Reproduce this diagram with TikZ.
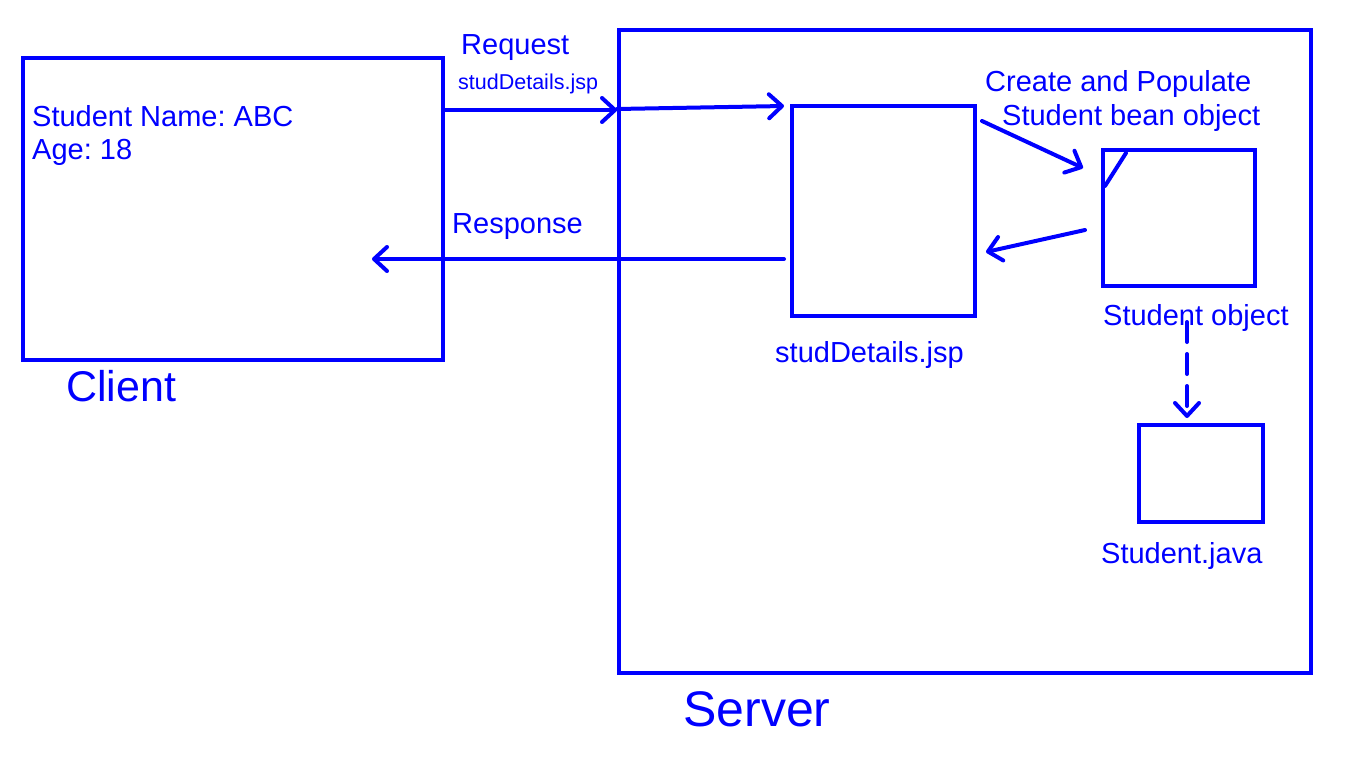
\documentclass[tikz,border=0pt]{standalone}
\usepackage{fontspec}
\setmainfont{Liberation Sans}
\usetikzlibrary{arrows.meta}
\definecolor{paintblue}{RGB}{0,0,255}
\frenchspacing
\tikzset{
  box/.style={draw=paintblue,line width=4pt,inner sep=0pt},
  lbl/.style={anchor=base west,inner sep=0pt,text=paintblue,font=\fontsize{29}{34}\selectfont},
  flow/.style={draw=paintblue,line width=4pt,line cap=round,-{Straight Barb[length=13pt,width=24pt,round]}}
}
\begin{document}
\begin{tikzpicture}[x=1pt,y=-1pt]
\useasboundingbox (0,0) rectangle (1366,768);
% Boxes
\node[box,minimum width=420pt,minimum height=302pt] (client) at (233,209) {};
\node[box,minimum width=692pt,minimum height=643pt] (server) at (965,351.5) {};
\node[box,minimum width=183pt,minimum height=210pt] (jsp) at (883.5,211) {};
\node[box,minimum width=152pt,minimum height=136pt] (obj) at (1179,218) {};
\node[box,minimum width=124pt,minimum height=97pt] (java) at (1201,473.5) {};
% Labels
\node[lbl] (name) at (32,126) {Student Name: ABC};
\node[lbl] (age) at (32,159) {Age: 18};
\node[lbl,font=\fontsize{43}{48}\selectfont] (clientlbl) at (66,401) {Client};
\node[lbl,font=\fontsize{50}{56}\selectfont] (serverlbl) at (683,726) {Server};
\node[lbl] (req) at (461,55) {Request};
\node[lbl,font=\fontsize{21.5}{26}\selectfont] (reqfile) at (458,89) {studDetails.jsp};
\node[lbl] (resp) at (452,233) {Response};
\node[lbl] (jsplbl) at (775,362) {studDetails.jsp};
\node[lbl] (create) at (985,92) {Create and Populate};
\node[lbl] (bean) at (1002,125) {Student bean object};
\node[lbl] (objlbl) at (1103,325) {Student object};
\node[lbl] (javalbl) at (1101,563) {Student.java};
% Arrows
\draw[flow] ([yshift=-54pt]client.north east) -- ([yshift=-82pt]server.north west);
\draw[flow] ([yshift=-81pt]server.north west) -- ([xshift=-6pt,yshift=-2pt]jsp.north west);
\draw[flow] ([xshift=5pt,yshift=-17pt]jsp.north east) -- ([xshift=-18pt,yshift=-20pt]obj.north west);
\draw[flow] ([xshift=-16pt,yshift=-12pt]obj.west) -- ([xshift=9pt,yshift=-41pt]jsp.east);
\draw[flow] ([xshift=-6pt,yshift=-48pt]jsp.west) -- ([xshift=-73pt,yshift=-50pt]client.east);
\draw[flow,dash pattern=on 20pt off 12pt] ([xshift=8pt,yshift=-34pt]obj.south) -- ([xshift=-14pt,yshift=5pt]java.north);
\draw[draw=paintblue,line width=4pt,line cap=round] ([xshift=25pt,yshift=-5pt]obj.north west) -- ([xshift=4pt,yshift=-38pt]obj.north west);
\end{tikzpicture}
\end{document}
